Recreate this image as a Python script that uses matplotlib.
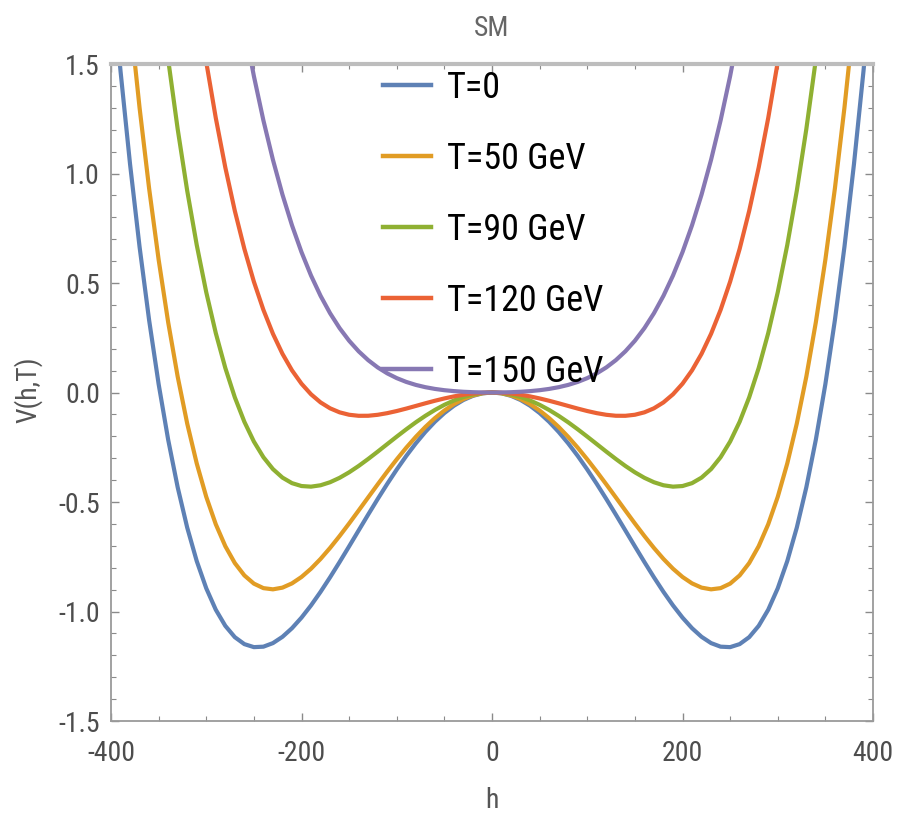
import os
import matplotlib
matplotlib.use("Agg")
import matplotlib.pyplot as plt
from matplotlib import font_manager
from matplotlib.font_manager import FontProperties
from matplotlib.ticker import MultipleLocator, FormatStrFormatter

# ---------------- data ----------------
h = list(range(-400, 401, 10))

V_T0 = [1.9421, 1.4673, 1.0425, 0.6646, 0.3309, 0.0385, -0.2152, -0.4328, -0.6168, -0.7697,
        -0.8940, -0.9918, -1.0655, -1.1172, -1.1489, -1.1627, -1.1606, -1.1443, -1.1156, -1.0763,
        -1.0279, -0.9721, -0.9103, -0.8438, -0.7741, -0.7024, -0.6298, -0.5574, -0.4863, -0.4174,
        -0.3516, -0.2896, -0.2323, -0.1801, -0.1338, -0.0938, -0.0605, -0.0342, -0.0153, -0.0038,
        0.0,
        -0.0038, -0.0153, -0.0342, -0.0605, -0.0938, -0.1338, -0.1801, -0.2323, -0.2896, -0.3516,
        -0.4174, -0.4863, -0.5574, -0.6298, -0.7024, -0.7741, -0.8438, -0.9103, -0.9721, -1.0279,
        -1.0763, -1.1156, -1.1443, -1.1606, -1.1627, -1.1489, -1.1172, -1.0655, -0.9918, -0.8940,
        -0.7697, -0.6168, -0.4328, -0.2152, 0.0385, 0.3309, 0.6646, 1.0425, 1.4673, 1.9421]

V_T50 = [2.6845, 2.1731, 1.7125, 1.2998, 0.9322, 0.6069, 0.3212, 0.0725, -0.1416, -0.3238,
         -0.4764, -0.6016, -0.7017, -0.7789, -0.8352, -0.8727, -0.8933, -0.8988, -0.8910, -0.8716,
         -0.8423, -0.8046, -0.7599, -0.7097, -0.6553, -0.5980, -0.5388, -0.4790, -0.4195, -0.3612,
         -0.3052, -0.2520, -0.2026, -0.1574, -0.1171, -0.0822, -0.0531, -0.0300, -0.0134, -0.0034,
         0.0,
         -0.0034, -0.0134, -0.0300, -0.0531, -0.0822, -0.1171, -0.1574, -0.2026, -0.2520, -0.3052,
         -0.3612, -0.4195, -0.4790, -0.5388, -0.5980, -0.6553, -0.7097, -0.7599, -0.8046, -0.8423,
         -0.8716, -0.8910, -0.8988, -0.8933, -0.8727, -0.8352, -0.7789, -0.7017, -0.6016, -0.4764,
         -0.3238, -0.1416, 0.0725, 0.3212, 0.6069, 0.9322, 1.2998, 1.7125, 2.1731, 2.6845]

V_T90 = [4.3453, 3.7519, 3.2114, 2.7208, 2.2774, 1.8784, 1.5211, 1.2029, 0.9213, 0.6737,
         0.4578, 0.2714, 0.1121, -0.0222, -0.1336, -0.2240, -0.2954, -0.3497, -0.3886, -0.4139,
         -0.4271, -0.4299, -0.4236, -0.4097, -0.3896, -0.3644, -0.3354, -0.3035, -0.2700, -0.2356,
         -0.2014, -0.1680, -0.1361, -0.1066, -0.0798, -0.0563, -0.0365, -0.0207, -0.0093, -0.0023,
         0.0,
         -0.0023, -0.0093, -0.0207, -0.0365, -0.0563, -0.0798, -0.1066, -0.1361, -0.1680, -0.2014,
         -0.2356, -0.2700, -0.3035, -0.3354, -0.3644, -0.3896, -0.4097, -0.4236, -0.4299, -0.4271,
         -0.4139, -0.3886, -0.3497, -0.2954, -0.2240, -0.1336, -0.0222, 0.1121, 0.2714, 0.4578,
         0.6737, 0.9213, 1.2029, 1.5211, 1.8784, 2.2774, 2.7208, 3.2114, 3.7519, 4.3453]

V_T120 = [6.2141, 5.5284, 4.8980, 4.3198, 3.7912, 3.3092, 2.8714, 2.4749, 2.1173, 1.7962,
          1.5090, 1.2537, 1.0278, 0.8293, 0.6560, 0.5060, 0.3774, 0.2682, 0.1767, 0.1012,
          0.0401, -0.0082, -0.0452, -0.0722, -0.0906, -0.1016, -0.1064, -0.1062, -0.1018, -0.0943,
          -0.0846, -0.0734, -0.0614, -0.0493, -0.0377, -0.0271, -0.0178, -0.0102, -0.0046, -0.0012,
          0.0,
          -0.0012, -0.0046, -0.0102, -0.0178, -0.0271, -0.0377, -0.0493, -0.0614, -0.0734, -0.0846,
          -0.0943, -0.1018, -0.1062, -0.1064, -0.1016, -0.0906, -0.0722, -0.0452, -0.0082, 0.0401,
          0.1012, 0.1767, 0.2682, 0.3774, 0.5060, 0.6560, 0.8293, 1.0278, 1.2537, 1.5090,
          1.7962, 2.1173, 2.4749, 2.8714, 3.3092, 3.7912, 4.3198, 4.8980, 5.5284, 6.2141]

V_T150 = [8.6173, 7.8129, 7.0668, 6.3761, 5.7378, 5.1492, 4.6077, 4.1106, 3.6553, 3.2396,
          2.8608, 2.5168, 2.2054, 1.9242, 1.6714, 1.4448, 1.2425, 1.0627, 0.9037, 0.7636,
          0.6409, 0.5340, 0.4415, 0.3619, 0.2939, 0.2363, 0.1880, 0.1477, 0.1145, 0.0874,
          0.0656, 0.0483, 0.0347, 0.0243, 0.0164, 0.0105, 0.0063, 0.0033, 0.0014, 0.0003,
          0.0,
          0.0003, 0.0014, 0.0033, 0.0063, 0.0105, 0.0164, 0.0243, 0.0347, 0.0483, 0.0656,
          0.0874, 0.1145, 0.1477, 0.1880, 0.2363, 0.2939, 0.3619, 0.4415, 0.5340, 0.6409,
          0.7636, 0.9037, 1.0627, 1.2425, 1.4448, 1.6714, 1.9242, 2.2054, 2.5168, 2.8608,
          3.2396, 3.6553, 4.1106, 4.6077, 5.1492, 5.7378, 6.3761, 7.0668, 7.8129, 8.6173]

series = [V_T0, V_T50, V_T90, V_T120, V_T150]
labels = ["T=0", "T=50 GeV", "T=90 GeV", "T=120 GeV", "T=150 GeV"]
colors = ["#5E81B5", "#E19C24", "#8FB032", "#EB6235", "#8778B3"]

# ---------------- fonts ----------------
narrow_path = None
files = [f.fname for f in font_manager.fontManager.ttflist]
for key in ["LiberationSansNarrow-Regular", "RobotoCondensed-Regular", "DejaVuSansCondensed."]:
    for fn in files:
        if key in os.path.basename(fn):
            narrow_path = fn
            break
    if narrow_path:
        break

plt.rcParams['font.family'] = ['Liberation Sans', 'DejaVu Sans']
plt.rcParams['axes.unicode_minus'] = False

if narrow_path:
    def fp(size):
        return FontProperties(fname=narrow_path, size=size)
    tick_size, leg_size, lab_size = 20, 26, 20
    leg_spacing, leg_top = 0.97, 70
else:
    def fp(size):
        return FontProperties(family=['Liberation Sans', 'DejaVu Sans'], size=size)
    tick_size, leg_size, lab_size = 19, 22, 19
    leg_spacing, leg_top = 1.32, 74

fig = plt.figure(figsize=(8.97, 8.27), dpi=100)
ax = fig.add_axes([0.12375, 0.12817, 0.84950, 0.79444])

for v, lab, c in zip(series, labels, colors):
    ax.plot(h, v, color=c, lw=3.0, label=lab)

ax.set_xlim(-400, 400)
ax.set_ylim(-1.5, 1.5)
ax.xaxis.set_major_locator(MultipleLocator(200))
ax.xaxis.set_minor_locator(MultipleLocator(50))
ax.yaxis.set_major_locator(MultipleLocator(0.5))
ax.yaxis.set_minor_locator(MultipleLocator(0.1))
ax.yaxis.set_major_formatter(FormatStrFormatter('%.1f'))
ax.xaxis.set_major_formatter(FormatStrFormatter('%d'))

ax.tick_params(which='both', direction='in', top=True, right=True,
               color='#8a8a8a', labelcolor='#4d4d4d')
ax.tick_params(which='major', length=6, width=1.0)
ax.tick_params(axis='x', which='major', pad=14)
ax.tick_params(axis='y', which='major', pad=8)
ax.tick_params(which='minor', length=3.5, width=0.8)
for t in ax.get_xticklabels() + ax.get_yticklabels():
    t.set_fontproperties(fp(tick_size))

for s in ['left', 'bottom', 'right']:
    ax.spines[s].set_color('#9a9a9a')
    ax.spines[s].set_linewidth(1.3)
ax.spines['top'].set_color('#bdbdbd')
ax.spines['top'].set_linewidth(3.0)

leg = ax.legend(loc='upper left', bbox_to_anchor=(383 / 897, 1 - leg_top / 827),
                bbox_transform=fig.transFigure, frameon=False, prop=fp(leg_size),
                handlelength=48 / (leg_size * 100 / 72), handletextpad=16 / (leg_size * 100 / 72),
                labelspacing=leg_spacing, borderpad=0, borderaxespad=0)
leg.set_zorder(5)
for line in leg.get_lines():
    line.set_linewidth(3.2)
for txt in leg.get_texts():
    txt.set_color('black')

fig.text(492 / 897, 1 - 28 / 827, "SM", ha='center', va='center', color='#666666',
         fontproperties=fp(lab_size))
fig.text(492 / 897, 1 - 800 / 827, "h", ha='center', va='center', color='#555555',
         fontproperties=fp(lab_size))
fig.text(28 / 897, 1 - 390 / 827, "V(h,T)", ha='center', va='center', rotation=90,
         color='#555555', fontproperties=fp(lab_size))

fig.savefig("out.png", dpi=100)
